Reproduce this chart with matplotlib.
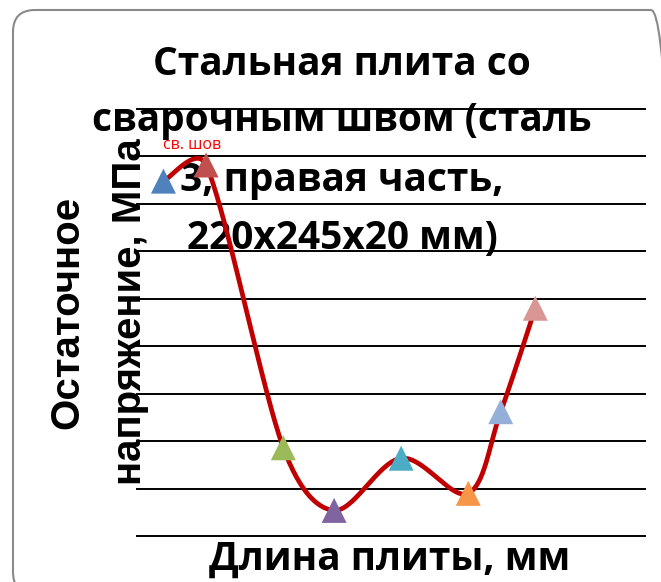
import numpy as np
import matplotlib.pyplot as plt
from matplotlib.patches import FancyBboxPatch
from matplotlib.transforms import IdentityTransform

# measured points along the right half of the welded plate
length_mm = [13, 34, 72, 97, 130, 163, 179, 196]
stress_mpa = [374, 391, 93, 27, 82, 45, 131, 240]
point_colors = ['#4F81BD', '#C0504D', '#9BBB59', '#8064A2',
                '#4BACC6', '#F79646', '#95B0D8', '#D99694']

title_lines = ['Стальная плита со', 'сварочным швом (сталь',
               '3, правая часть,', '220x245x20 мм)']
ylabel_lines = ['Остаточное', 'напряжение, МПа']
xlabel = 'Длина плиты, мм'
weld_label = 'св. шов'

heading_font = ['Open Sans', 'DejaVu Sans']
axis_font = ['Liberation Sans', 'DejaVu Sans']


def excel_smooth(p, n=60):
    # cubic bezier through every point (display coords), Catmull-Rom
    # tangents with each handle kept within half of its segment
    ext = np.vstack([p[0], p, p[-1]])
    t = np.linspace(0, 1, n)[:, None]
    out = []
    for i in range(len(p) - 1):
        p0, p1 = ext[i + 1], ext[i + 2]
        half = np.linalg.norm(p1 - p0) / 2
        h1 = (ext[i + 2] - ext[i]) / 6
        h2 = (ext[i + 3] - ext[i + 1]) / 6
        for h in (h1, h2):
            ln = np.linalg.norm(h)
            if ln > half:
                h *= half / ln
        c1 = p0 + h1
        c2 = p1 - h2
        seg = ((1 - t) ** 3) * p0 + 3 * ((1 - t) ** 2) * t * c1 \
            + 3 * (1 - t) * t ** 2 * c2 + t ** 3 * p1
        out.append(seg)
    return np.vstack(out)


fig = plt.figure(figsize=(6.61, 5.82), dpi=100)

# rounded frame round the whole chart
frame = FancyBboxPatch((13, -12), 660, 584, boxstyle='round,pad=0,rounding_size=22',
                       transform=IdentityTransform(), facecolor='none',
                       edgecolor='#8a8a8a', linewidth=1.5)
fig.add_artist(frame)

ax = fig.add_axes([0.2073, 0.079, 0.7685, 0.7337])
ax.set_xlim(0, 250)
ax.set_ylim(0, 450)
ax.set_yticks(np.arange(0, 451, 50))
ax.set_xticks([])
ax.set_axisbelow(True)
ax.grid(axis='y', color='black', linewidth=1.4)
for gl in ax.yaxis.get_gridlines():
    gl.set_clip_on(False)
ax.tick_params(length=0, labelleft=False, labelbottom=False)
for side in ax.spines.values():
    side.set_visible(False)
ax.patch.set_visible(False)

pts = ax.transData.transform(np.column_stack([length_mm, stress_mpa]))
curve = ax.transData.inverted().transform(excel_smooth(pts))
ax.plot(curve[:, 0], curve[:, 1], color='#C00000', linewidth=3.4,
        zorder=3, clip_on=False)
ax.scatter(length_mm, stress_mpa, marker='^', s=18 ** 2, c=point_colors,
           linewidths=0, zorder=4, clip_on=False)

ax.annotate(weld_label, (length_mm[1], stress_mpa[1]), xytext=(-10, 14.5),
            textcoords='offset points', ha='center', va='center',
            color='red', fontsize=11.5, family=heading_font, zorder=5)

# title sits inside the plot, under the curve
baselines = [75, 131, 191, 249]
for line, b in zip(title_lines, baselines):
    ax.text(342 / 661, 1 - b / 582, line, transform=fig.transFigure,
            ha='center', va='baseline', fontsize=28, fontweight='bold',
            family=heading_font, zorder=1)

for line, xc in zip(ylabel_lines, [67, 130]):
    ax.text(xc / 661, 1 - 312 / 582, line, transform=fig.transFigure,
            rotation=90, ha='center', va='center', fontsize=29,
            fontweight='bold', family=axis_font, zorder=1)

ax.text(390 / 661, 1 - 570 / 582, xlabel, transform=fig.transFigure,
        ha='center', va='baseline', fontsize=28, fontweight='bold',
        family=heading_font, zorder=1)

fig.savefig('out.png', dpi=100)
